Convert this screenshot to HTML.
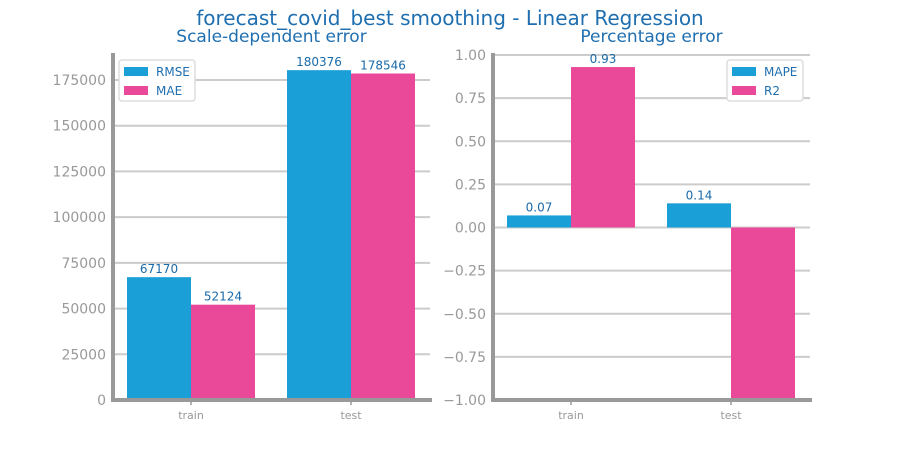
<!DOCTYPE html>
<html><head><meta charset="utf-8"><style>
html,body{margin:0;background:#fff;width:900px;height:450px;overflow:hidden;}
svg{display:block;font-family:"DejaVu Sans","Liberation Sans",sans-serif;}
</style></head><body>
<svg id="c" width="900" height="450"></svg>
<script>
const categories=["train","test"];
const leftSeriesNames=["RMSE","MAE"];
const rmseValues=[67170,180376];
const maeValues=[52124,178546];
const leftTicks=[0,25000,50000,75000,100000,125000,150000,175000];
const rightSeriesNames=["MAPE","R2"];
const mapeValues=[0.07,0.14];
const r2Values=[0.93,-5.2];
const rightTicks=[-1,-0.75,-0.5,-0.25,0,0.25,0.5,0.75,1];
const rightTickLabels=["\u22121.00","\u22120.75","\u22120.50","\u22120.25","0.00","0.25","0.50","0.75","1.00"];

const NS="http://www.w3.org/2000/svg";
const svg=document.getElementById('c');
const C1="#1a9fd6",C2="#ea4899",TC="#1f6fb0",GC="#999";
function el(t,a,p){const e=document.createElementNS(NS,t);for(const k in a)e.setAttribute(k,a[k]);(p||svg).appendChild(e);return e;}
function txt(s,a,p){const e=el('text',a,p);e.textContent=s;return e;}

const title=txt("forecast_covid_best smoothing - Linear Regression",{x:450,y:25,'text-anchor':'middle','font-size':20,fill:TC});



function panel(o){
  const g=el('g',{});
  
  
  const y=v=>o.y0+(v-o.vmin)/(o.vmax-o.vmin)*(o.y1-o.y0);
  const clampV=v=>Math.max(o.vmin,Math.min(o.vmax,v));
  const xc=i=>o.xl+78+i*160;
  const t=txt(o.title,{x:(o.xl+o.xr)/2,y:42,'text-anchor':'middle','font-size':17,fill:TC},g);
  
  
  o.ticks.forEach((v,i)=>{
    const gl=el('line',{x1:o.xl,x2:o.xr,y1:y(v),y2:y(v),stroke:'#ccc','stroke-width':2},g);
    
    
    const tl=txt(o.labels[i],{x:o.xl-7,y:y(v)+5,'text-anchor':'end','font-size':14,fill:GC},g);
    
    
  });
  [o.s1,o.s2].forEach((vals,si)=>{
    vals.forEach((v,i)=>{
      const x=xc(i)-64+si*64;
      const a=y(clampV(Math.max(v,0))),b=y(clampV(Math.min(v,0)));
      const r=el('rect',{x:x,y:a,width:64,height:Math.max(0,b-a),fill:si?C2:C1},g);
      
      
      if(v>=o.vmin){
        const l=txt(o.fmt(v),{x:x+32,y:(v>=0?y(clampV(v)):y(0))-4,'text-anchor':'middle','font-size':12,fill:'#1a6aa8'},g);
        
        
      }
    });
  });
  categories.forEach((c,i)=>{
    el('line',{x1:xc(i),x2:xc(i),y1:o.y0,y2:o.y0+5,stroke:GC,'stroke-width':1.5},g);
    const xl=txt(c,{x:xc(i),y:o.y0+19,'text-anchor':'middle','font-size':11,fill:GC},g);
    
    
  });
  const ax=el('path',{d:`M${o.xl} 53 V${o.y0} H${o.xr+2}`,fill:'none',stroke:GC,'stroke-width':4},g);
  
  
  const lg=el('g',{},g);
  
  
  el('rect',{x:o.lx,y:60,width:76,height:41,rx:3,fill:'#fff',stroke:'#ddd','stroke-width':1.5},lg);
  o.names.forEach((n,i)=>{
    el('rect',{x:o.lx+5,y:67+i*19,width:24,height:9,fill:i?C2:C1},lg);
    const lt=txt(n,{x:o.lx+37,y:76+i*19,'font-size':12,fill:TC},lg);
    
    
  });
}
panel({name:'scale-dependent-panel',title:'Scale-dependent error',xl:113,xr:430,y0:400,y1:53,vmin:0,vmax:189760,
  ticks:leftTicks,labels:leftTicks.map(String),s1:rmseValues,s2:maeValues,names:leftSeriesNames,fmt:v=>String(v),lx:119});
panel({name:'percentage-panel',title:'Percentage error',xl:493,xr:810,y0:400,y1:53,vmin:-1,vmax:1.0116,
  ticks:rightTicks,labels:rightTickLabels,s1:mapeValues,s2:r2Values,names:rightSeriesNames,fmt:v=>v.toFixed(2),lx:727});
</script>
</body></html>
